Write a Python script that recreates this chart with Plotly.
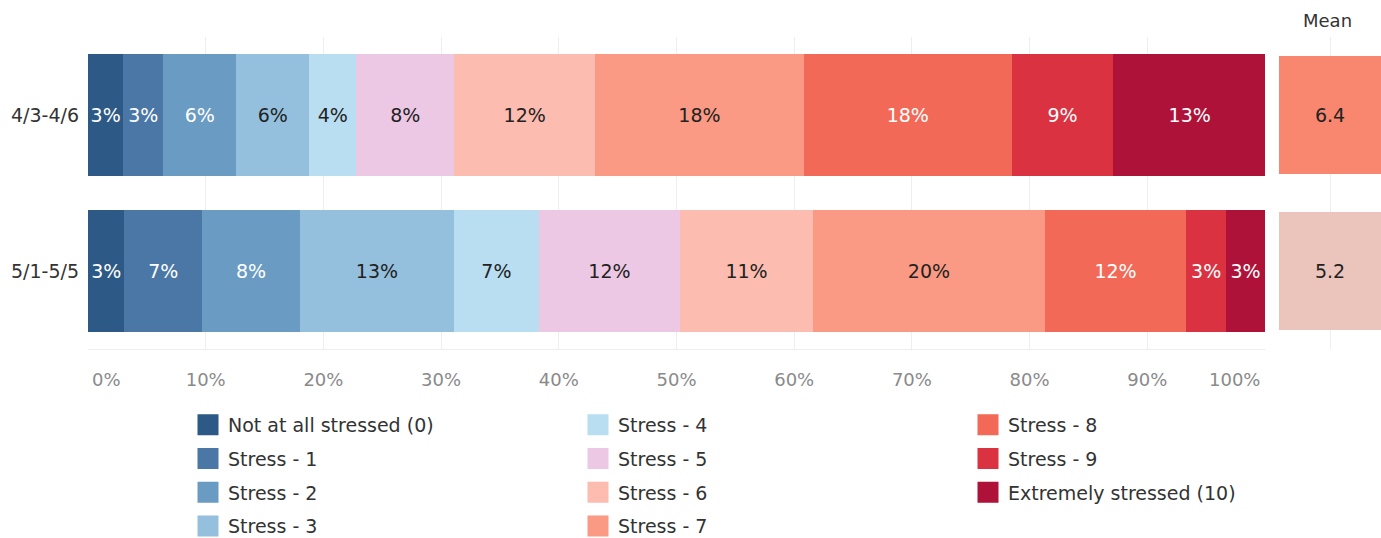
import plotly.graph_objects as go

periods = ["4/3-4/6", "5/1-5/5"]
levels = ["Not at all stressed (0)", "Stress - 1", "Stress - 2", "Stress - 3", "Stress - 4",
          "Stress - 5", "Stress - 6", "Stress - 7", "Stress - 8", "Stress - 9",
          "Extremely stressed (10)"]
pct_apr = [3.0, 3.4, 6.2, 6.2, 4.0, 8.3, 12.0, 17.7, 17.7, 8.6, 13.0]
pct_may = [3.1, 6.6, 8.3, 13.1, 7.2, 12.0, 11.3, 19.7, 12.0, 3.4, 3.3]
means = [6.4, 5.2]
x_ticks = [0, 10, 20, 30, 40, 50, 60, 70, 80, 90, 100]

level_colors = ["#2C5985", "#4A77A6", "#6A9BC3", "#94C0DE", "#B9DDF1", "#EDC8E4",
                "#FDBCB0", "#FA9A84", "#F36957", "#DB3241", "#AF1238"]
text_colors = ["#FFFFFF", "#FFFFFF", "#FFFFFF", "#222222", "#222222", "#222222",
               "#222222", "#222222", "#FFFFFF", "#FFFFFF", "#FFFFFF"]
mean_colors = ["#F9876F", "#EBC4BC"]
MEAN_AXIS_MAX = 2

FONT = "DejaVu Sans"
fig = go.Figure()

for i, name in enumerate(levels):
    vals = [pct_apr[i], pct_may[i]]
    fig.add_trace(go.Bar(
        y=periods, x=[v / 100 for v in vals], orientation="h",
        marker=dict(color=level_colors[i], line=dict(width=0)),
        text=[f"{round(v)}%" for v in vals],
        textposition="inside", insidetextanchor="middle", textangle=0,
        constraintext="none",
        textfont=dict(family=FONT, size=19, color=text_colors[i]),
        showlegend=False, hoverinfo="skip", xaxis="x", yaxis="y",
    ))

# legend entries (three columns)
for i, name in enumerate(levels):
    leg = "legend" if i < 4 else ("legend2" if i < 8 else "legend3")
    fig.add_trace(go.Scatter(
        x=[None], y=[None], mode="markers", name=name,
        marker=dict(symbol="square", size=16, color=level_colors[i],
                    line=dict(width=5, color=level_colors[i])),
        legend=leg, legendgroup=name, showlegend=True, xaxis="x", yaxis="y",
    ))

fig.add_trace(go.Bar(
    y=periods, x=[MEAN_AXIS_MAX] * len(means), orientation="h", width=0.76,
    marker=dict(color=mean_colors, line=dict(width=0)),
    text=[f"{m:.1f}" for m in means], textposition="inside",
    insidetextanchor="middle", constraintext="none",
    textfont=dict(family=FONT, size=19, color="#222222"),
    showlegend=False, hoverinfo="skip", xaxis="x2", yaxis="y",
))

W, H = 1381, 538
x0, x1 = 88 / W, 1265 / W
m0 = 1279 / W
y_lo, y_hi = 1 - 349 / H, 1 - 37 / H

legend_common = dict(
    orientation="v", xanchor="left", yanchor="top", yref="paper",
    font=dict(family=FONT, size=19, color="#333333"),
    bgcolor="rgba(0,0,0,0)", tracegroupgap=6, itemclick=False,
)
legend_y = 1 - 406 / H

tick_text = [("" if t in (x_ticks[0], x_ticks[-1]) else f"{t}%") for t in x_ticks]
edge_labels = [
    dict(text=f"{x_ticks[0]}%", x=x_ticks[0] / 100, xanchor="left", xshift=2),
    dict(text=f"{x_ticks[-1]}%", x=x_ticks[-1] / 100, xanchor="right", xshift=-3),
]
annotations = [
    dict(text=e["text"], x=e["x"], xanchor=e["xanchor"], xshift=e["xshift"],
         xref="x", yref="paper", y=1 - 379 / H, yanchor="middle", showarrow=False,
         font=dict(family=FONT, size=18, color="#8A8A8A"))
    for e in edge_labels
]
annotations.append(dict(text="Mean", x=(m0 + 1) / 2 - 0.002, y=1 - 20 / H,
                        xref="paper", yref="paper", xanchor="center", yanchor="middle",
                        showarrow=False,
                        font=dict(family=FONT, size=18, color="#333333")))

fig.update_layout(
    width=W, height=H,
    margin=dict(l=0, r=0, t=0, b=0, autoexpand=False),
    paper_bgcolor="white", plot_bgcolor="white",
    barmode="stack", bargap=0.22,
    font=dict(family=FONT, color="#333333"),
    xaxis=dict(domain=[x0, x1], range=[0, 1], tickvals=[t / 100 for t in x_ticks],
               ticktext=tick_text, showgrid=True, gridcolor="#EEEEEE",
               gridwidth=1, zeroline=False, showline=True, linecolor="#EEEEEE",
               ticks="", ticklabelstandoff=14, automargin=False,
               tickfont=dict(family=FONT, size=18, color="#8A8A8A"), anchor="y",
               fixedrange=True),
    xaxis2=dict(domain=[m0, 1], range=[0, MEAN_AXIS_MAX], dtick=1, showgrid=True,
                gridcolor="#EEEEEE", zeroline=False, showticklabels=False, ticks="",
                anchor="y", fixedrange=True, automargin=False),
    yaxis=dict(domain=[y_lo, y_hi], categoryorder="array", categoryarray=periods,
               autorange="reversed", showgrid=False, zeroline=False, ticks="",
               ticklabelstandoff=8, automargin=False,
               tickfont=dict(family=FONT, size=19, color="#333333"), fixedrange=True),
    legend=dict(x=188 / W, y=legend_y, **legend_common),
    legend2=dict(x=578 / W, y=legend_y, **legend_common),
    legend3=dict(x=968 / W, y=legend_y, **legend_common),
    annotations=annotations,
)

fig.write_html(
    "out.html",
    config={"displayModeBar": False},
    post_script="document.body.style.margin='0';document.body.style.overflow='hidden';",
)
